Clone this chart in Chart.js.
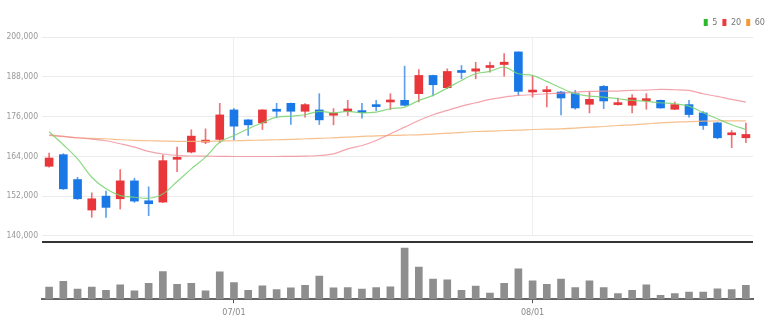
<!DOCTYPE html>
<html>
<head>
<meta charset="utf-8">
<script src="https://cdn.jsdelivr.net/npm/chart.js@4/dist/chart.umd.min.js"></script>
<style>
    body { margin: 0; background: #fff; }
    #wrap { position: relative; width: 770px; height: 335px; }
    #price { position: absolute; left: 0; top: 0; }
    #volume { position: absolute; left: 0; top: 243px; }
</style>
</head>
<body>
<div id="wrap">
    <canvas id="price" width="770" height="245"></canvas>
    <canvas id="volume" width="770" height="79"></canvas>
</div>
<script>
    // trading days, mm/dd
    const dates = [
        '06/14', '06/15', '06/16', '06/17', '06/20', '06/21', '06/22', '06/23', '06/24', '06/27',
        '06/28', '06/29', '06/30', '07/01', '07/04', '07/05', '07/06', '07/07', '07/08', '07/11',
        '07/12', '07/13', '07/14', '07/15', '07/18', '07/19', '07/20', '07/21', '07/22', '07/25',
        '07/26', '07/27', '07/28', '07/29', '08/01', '08/02', '08/03', '08/04', '08/05', '08/08',
        '08/09', '08/10', '08/11', '08/12', '08/16', '08/17', '08/18', '08/19', '08/22', '08/23'
    ];

    const opens = [
        161000, 164500, 157000, 147800, 152000, 151200, 156600, 150600, 150200, 163100,
        165300, 168300, 169100, 178000, 175000, 174100, 178000, 180000, 177600, 178000,
        176400, 177600, 177800, 179200, 180400, 180900, 182900, 188400, 184700, 189500,
        189700, 190800, 191700, 195500, 183400, 183500, 183400, 182900, 179700, 185100,
        179600, 179400, 180800, 180900, 178200, 179600, 177100, 174100, 170500, 169600
    ];
    const highs = [
        165000, 164800, 157700, 153000, 153500, 160000, 157400, 154800, 164400, 166800,
        172000, 172300, 180000, 178400, 175100, 178100, 180000, 180100, 179900, 182900,
        178400, 180900, 180000, 180900, 182900, 191200, 190200, 188500, 190400, 191400,
        192400, 192400, 195000, 195500, 188200, 185100, 183600, 183900, 183400, 185400,
        181600, 182600, 182900, 181000, 180400, 180900, 177500, 174300, 171800, 174000
    ];
    const lows = [
        160700, 154000, 151000, 145600, 145600, 148100, 150100, 146100, 150000, 159400,
        165000, 167800, 168100, 169000, 170300, 172100, 175800, 173600, 175800, 173600,
        173500, 176300, 175500, 177800, 178100, 179300, 180400, 182200, 184400, 187400,
        187400, 189400, 188200, 182400, 181900, 178900, 176500, 178200, 177100, 178400,
        179400, 177100, 178200, 178500, 178100, 175800, 172100, 169300, 166600, 168100
    ];
    const closes = [
        163500, 154200, 151200, 151200, 148600, 156600, 150500, 149700, 162700, 163400,
        170100, 168600, 176500, 173100, 173500, 178000, 177600, 177600, 179600, 175000,
        176600, 178300, 177200, 179000, 180700, 179400, 188400, 185600, 189600, 189300,
        190400, 191100, 192400, 183600, 183700, 183700, 181600, 178600, 181200, 180700,
        179800, 181600, 181100, 178600, 179600, 176600, 173300, 169600, 170700, 170600
    ];

    // moving averages (5 / 20 / 60 days)
    const ma5 = [
        171400, 167500, 163250, 157700, 154200, 152170, 151660, 151360, 152670, 156400,
        160230, 163750, 168280, 170300, 172300, 174120, 175830, 176130, 176540, 177550,
        177140, 177550, 177140, 177350, 178350, 178850, 180870, 182380, 184600, 186900,
        188920, 189630, 190940, 188920, 188420, 186600, 184600, 182880, 182180, 181870,
        181370, 180870, 180570, 180160, 179860, 179160, 177140, 175330, 173520, 172110
    ];
    const ma20 = [
        170500, 170000, 169600, 169200, 168700, 167800, 166800, 165500, 164700, 164300,
        164100, 164050, 164000, 163950, 163950, 163950, 163950, 164000, 164050, 164250,
        164750, 166260, 167270, 168780, 170800, 172800, 174820, 176540, 177850, 179160,
        180160, 181170, 181870, 182380, 182580, 182880, 183080, 183380, 183590, 183690,
        183690, 183890, 183990, 184190, 184090, 183890, 182880, 182080, 181170, 180370
    ];
    const ma60 = [
        170300, 170000, 169600, 169400, 169300, 169000, 168800, 168700, 168600, 168500,
        168500, 168500, 168600, 168700, 168800, 168900, 169000, 169100, 169300, 169400,
        169600, 169800, 170000, 170200, 170300, 170400, 170500, 170700, 171000, 171200,
        171500, 171600, 171800, 171900, 172100, 172200, 172300, 172500, 172800, 173000,
        173300, 173500, 173800, 174100, 174300, 174500, 174600, 174700, 174700, 174700
    ];

    const volumes = [
        350000, 520000, 290000, 350000, 260000, 420000, 240000, 460000, 800000, 430000,
        460000, 240000, 790000, 480000, 260000, 390000, 280000, 330000, 400000, 670000,
        330000, 340000, 290000, 340000, 360000, 1480000, 930000, 580000, 560000, 260000,
        380000, 180000, 460000, 880000, 530000, 430000, 580000, 340000, 530000, 340000,
        160000, 260000, 420000, 110000, 160000, 210000, 210000, 300000, 280000, 400000
    ];

    const UP = '#e8363a';
    const DOWN = '#1a78e6';
    const UP_WICK = 'rgba(232, 54, 58, 0.7)';
    const DOWN_WICK = 'rgba(26, 120, 230, 0.7)';
    const FONT = "'Liberation Sans Narrow', 'DejaVu Sans Condensed', sans-serif";

    const isUp = opens.map((o, i) => closes[i] >= o);
    const bodies = opens.map((o, i) => [o, closes[i]]);
    const wicks = lows.map((l, i) => [l, highs[i]]);
    const isMonthStart = (i) => dates[i] !== undefined && dates[i].endsWith('/01');

    const legendColors = { '5': '#2eb82e', '20': '#ee3b3b', '60': '#f39a33' };

    // thick separator under the price pane
    const separator = {
        id: 'separator',
        afterDraw(chart) {
            const { ctx, chartArea } = chart;
            ctx.save();
            ctx.strokeStyle = '#333';
            ctx.lineWidth = 2;
            ctx.beginPath();
            ctx.moveTo(chartArea.left, chartArea.bottom + 6);
            ctx.lineTo(chartArea.right, chartArea.bottom + 6);
            ctx.stroke();
            ctx.restore();
        }
    };

    new Chart(document.getElementById('price'), {
        type: 'bar',
        data: {
            labels: dates,
            datasets: [
                { type: 'line', label: '5', data: ma5, borderColor: 'rgba(120, 210, 110, 0.85)', backgroundColor: legendColors['5'], borderWidth: 1.2, pointRadius: 0, tension: 0.35, order: 0 },
                { type: 'line', label: '20', data: ma20, borderColor: 'rgba(240, 140, 150, 0.8)', backgroundColor: legendColors['20'], borderWidth: 1.2, pointRadius: 0, tension: 0.35, order: 0 },
                { type: 'line', label: '60', data: ma60, borderColor: 'rgba(245, 180, 120, 0.85)', backgroundColor: legendColors['60'], borderWidth: 1.2, pointRadius: 0, tension: 0.35, order: 0 },
                { label: 'wick', data: wicks, backgroundColor: isUp.map(u => u ? UP_WICK : DOWN_WICK), barThickness: 1, grouped: false, order: 2 },
                { label: 'body', data: bodies, backgroundColor: isUp.map(u => u ? UP : DOWN), barThickness: 8, minBarLength: 2, grouped: false, order: 1 }
            ]
        },
        options: {
            responsive: false,
            animation: false,
            layout: { padding: { top: 13, right: 0, bottom: 8, left: 0 } },
            plugins: {
                tooltip: { enabled: false },
                legend: {
                    position: 'top',
                    align: 'end',
                    labels: {
                        boxWidth: 4,
                        boxHeight: 7,
                        padding: 5,
                        color: '#777',
                        font: { family: FONT, size: 9 },
                        filter: (item) => item.text in legendColors,
                        generateLabels(chart) {
                            return Chart.defaults.plugins.legend.labels.generateLabels(chart).map(item => {
                                const c = legendColors[item.text];
                                if (c) {
                                    item.fillStyle = c;
                                    item.strokeStyle = c;
                                    item.lineWidth = 0;
                                }
                                return item;
                            });
                        }
                    }
                }
            },
            scales: {
                x: {
                    ticks: { display: false },
                    border: { display: false },
                    grid: {
                        offset: false,
                        drawTicks: false,
                        color: (ctx) => isMonthStart(ctx.index) ? '#eeeeee' : 'transparent'
                    }
                },
                y: {
                    min: 140000,
                    max: 200000,
                    afterFit: (scale) => { scale.width = 42; },
                    border: { display: false },
                    grid: { color: '#ebebeb', drawTicks: false },
                    ticks: {
                        stepSize: 12000,
                        padding: 4,
                        color: '#999',
                        font: { family: FONT, size: 8.5 },
                        callback: (v) => v.toLocaleString('en-US')
                    }
                },
                yRight: {
                    position: 'right',
                    afterFit: (scale) => { scale.width = 17; },
                    ticks: { display: false },
                    grid: { display: false },
                    border: { display: false }
                }
            }
        },
        plugins: [separator]
    });

    new Chart(document.getElementById('volume'), {
        type: 'bar',
        data: {
            labels: dates,
            datasets: [{ data: volumes, backgroundColor: '#8e8e8e', barThickness: 7 }]
        },
        options: {
            responsive: false,
            animation: false,
            layout: { padding: { top: 1, right: 17, bottom: 0, left: 42 } },
            plugins: { legend: { display: false }, tooltip: { enabled: false } },
            scales: {
                x: {
                    border: { color: '#666', width: 2 },
                    grid: {
                        offset: false,
                        drawOnChartArea: false,
                        tickLength: 4,
                        tickColor: (ctx) => isMonthStart(ctx.index) ? '#555' : 'transparent'
                    },
                    ticks: {
                        autoSkip: false,
                        maxRotation: 0,
                        padding: 4,
                        color: '#888',
                        font: { family: FONT, size: 9 },
                        callback: (v, i) => isMonthStart(i) ? dates[i] : ''
                    }
                },
                y: { display: false, min: 0, max: 1600000 }
            }
        }
    });
</script>
</body>
</html>
